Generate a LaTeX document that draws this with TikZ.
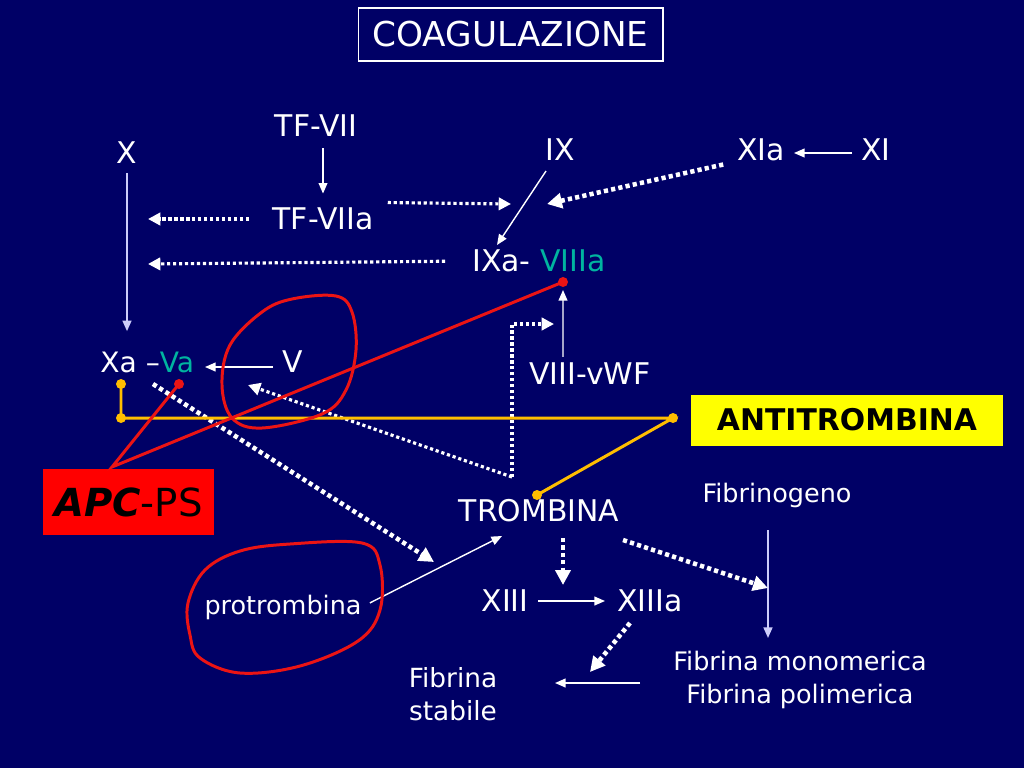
\documentclass[tikz,border=0pt]{standalone}
\usepackage{fontspec}
\setmainfont{DejaVu Sans}
\usetikzlibrary{arrows.meta}

\definecolor{bgblue}{RGB}{0,0,102}
\definecolor{vteal}{RGB}{0,180,160}
\definecolor{atgold}{RGB}{255,190,0}
\definecolor{atyellow}{RGB}{255,255,0}
\definecolor{lnred}{RGB}{235,20,20}
\definecolor{pale}{RGB}{205,205,250}

\tikzset{
  fac/.style={text=white, inner sep=0pt, font=\fontsize{17}{20}\selectfont},
  facsm/.style={fac, font=\fontsize{14.5}{18.7}\selectfont, align=center},
  conv/.style={white, line width=0.8pt, -{Triangle[length=6pt,width=5pt]}},
  dotline/.style={white, line width=1.8pt, dash pattern=on 1.8pt off 1.6pt, -{Triangle[length=7pt,width=7pt]}},
  dotthick/.style={dotline, line width=2.6pt, dash pattern=on 2.4pt off 1.8pt, -{Triangle[length=8.5pt,width=8.5pt]}},
  bond/.style={line width=1.7pt},
  knob/.style={circle, fill=#1, inner sep=0pt, minimum size=0.2cm}
}

\begin{document}
\begin{tikzpicture}[x=0.02cm, y=-0.02cm]
\fill[bgblue] (0,0) rectangle (1024,768);

\node[draw=white, line width=0.6pt, minimum width=6.1cm, minimum height=1.06cm, text=white,
  font=\fontsize{19.5}{23}\selectfont] (title) at (510.5,34.5) {COAGULAZIONE};

% factors
\node[fac] (tf7) at (316,126) {TF-VII};
\node[fac] (x) at (127,153) {X};
\node[fac] (ix) at (560,150) {IX};
\node[fac] (xia) at (761,150) {XIa};
\node[fac] (xi) at (876,150) {XI};
\node[fac] (tf7a) at (323,219) {TF-VIIa};
\node[fac, anchor=west] (ixa) at (472,261) {IXa- \textcolor{vteal}{VIIIa}};
\node[fac, anchor=west, font=\fontsize{16}{19}\selectfont] (xa) at (100,362) {Xa –\textcolor{vteal}{Va}};
\node[fac] (v) at (293,362) {V};
\node[fac] (viii) at (590,374) {VIII-vWF};
\node[fac] (tromb) at (539,511) {TROMBINA};
\node[fac] (xiii) at (505,601) {XIII};
\node[fac] (xiiia) at (650,601) {XIIIa};
\node[facsm, anchor=base] (fibg) at (777,502) {Fibrinogeno};
\node[facsm, anchor=base] (protr) at (283,614) {protrombina};
\node[facsm, anchor=north] (fibmp) at (800,651) {Fibrina monomerica\\Fibrina polimerica};
\node[facsm, anchor=north, font=\fontsize{15}{18.7}\selectfont] (fibst) at (453,667) {Fibrina\\stabile};

% inhibitors
\node[fill=atyellow, text=black, minimum width=6.24cm, minimum height=1.02cm,
  font=\bfseries\fontsize{17}{20}\selectfont] (antit) at (847,420) {ANTITROMBINA};
\node[fill=red, text=black, minimum width=3.42cm, minimum height=1.32cm,
  font=\fontsize{22}{26}\selectfont] (apc) at (128.5,502) {\textbf{\textit{APC}}-PS};

% free ends
\coordinate (xl1) at (148,219);
\coordinate (xl2) at (148,264);
\coordinate (ixl) at (511,204);
\coordinate (ixr) at (547,204);
\coordinate (ixout) at (546,171);
\coordinate (trtop) at (512,477);
\coordinate (viiiact) at (554,324);
\coordinate (vact) at (248,385);
\coordinate (protact) at (434,562);
\coordinate (xiiiact) at (563,585);
\coordinate (fibact) at (768,588);
\coordinate (stabact) at (590,672);
\coordinate (apcin) at (112,467);

\path[conv]
  (tf7a |- tf7.south) edge[shorten <=0.22cm, shorten >=0.28cm] (tf7a.north)
  (852,153) edge (794,153)
  (ixout) edge (497,245)
  (273,367) edge (205,367)
  (538,601) edge (605,601)
  (640,683) edge (555,683)
  (protr.east) edge[shorten <=0.18cm] (502,536)
  ([xshift=-0.54cm]viii.north) edge[shorten <=0.12cm] (563,290);
\path[conv, pale, line width=1.1pt]
  (x.south) edge[shorten <=0.18cm, shorten >=0.4cm] (x.south |- xa.north)
  (768,530) edge (768,638);

\path[dotline]
  (tf7a.west) edge[shorten <=0.46cm] (xl1)
  (ixa.west) edge[shorten <=0.54cm] (xl2)
  ([xshift=0.28cm, yshift=0.1cm]tf7a.north east) edge (ixl)
  (trtop) edge (vact);
\draw[dotline] (trtop) |- (viiiact);

\path[dotthick]
  (xia.south west) edge[shorten <=0.28cm] (ixr)
  (153,384) edge (protact)
  (563,538) edge (xiiiact)
  (623,540) edge (fibact)
  (630,623) edge (stabact);

% antitrombina
\node[knob=atgold] (atxa) at (121,384) {};
\node[knob=atgold] (atbend) at (121,418) {};
\node[knob=atgold] (atend) at (673,418) {};
\node[knob=atgold] (attr) at (537,495) {};
\draw[bond, atgold] (atxa.center) -- (atbend.center) -- (atend.center) -- (attr.center);

% APC-PS
\node[knob=lnred] (apcva) at (179,384) {};
\node[knob=lnred] (apcviii) at (563,282) {};
\draw[bond, lnred] (apcva.center) -- (apcin) -- (apcviii.center);

\draw[bond, lnred] plot[smooth cycle, tension=0.6] coordinates {(262,312) (292,299) (336,296) (352,312)
  (356,350) (346,390) (322,414) (262,428) (232,418) (222,385) (230,345)};
\draw[bond, lnred] plot[smooth cycle, tension=0.6] coordinates {(190,635) (188,603) (205,570) (240,551)
  (290,544) (362,543) (380,565) (380,610) (358,641) (300,666) (240,673) (200,658)};
\end{tikzpicture}
\end{document}
